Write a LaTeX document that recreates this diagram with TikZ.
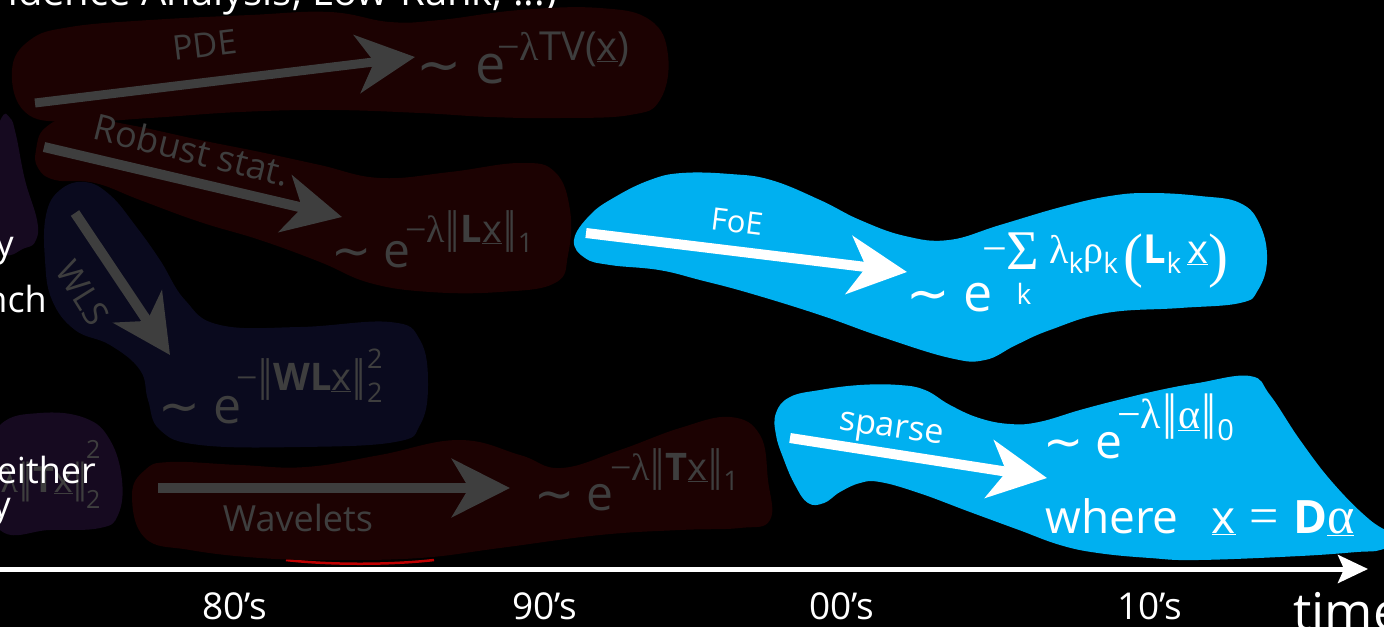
\documentclass[tikz,border=0pt]{standalone}
\usepackage{fontspec}
\setmainfont{Open Sans}
\newfontfamily\dvfont{DejaVu Sans}
\newfontfamily\gkfont{Liberation Serif}
\usetikzlibrary{arrows.meta}
\definecolor{blobred}{RGB}{28,2,2}
\definecolor{blobnavy}{RGB}{10,10,30}
\definecolor{blobpurple}{RGB}{22,10,32}
\definecolor{fade}{RGB}{62,62,62}
\definecolor{skyblue}{RGB}{0,176,240}
\definecolor{arcred}{RGB}{190,0,0}
\newcommand\myfs[1]{\fontsize{#1}{#1}\selectfont}
\newcommand\myTld{{\dvfont ∼}}
\newcommand\myMns{{\gkfont −}}
\newcommand\myNrm{{\gkfont\kern0.02em|\kern-0.1em|\kern0.02em}}
\newcommand\myLam{{\gkfont λ}}
\newcommand\myAlp{{\gkfont α}}
\newcommand\myRho{{\gkfont ρ}}
\newcommand\mySig{{\gkfont Σ}}
\begin{document}
\begin{tikzpicture}[x=1pt,y=-1pt,
  fatarrow/.style={line width=10pt,-{Stealth[length=58pt,width=58pt,inset=17pt]}},
  txt/.style={inner sep=0pt,anchor=base west},
  lbl/.style={inner sep=0pt,font=\myfs{34pt}},
  yr/.style={inner sep=0pt,text=white,font=\myfs{37pt}},
  side/.style={inner sep=0pt,anchor=base east,text=white,font=\myfs{36pt}}]
\useasboundingbox (0,0) rectangle (1384,627);
\clip (0,0) rectangle (1384,627);
\fill[black] (0,0) rectangle (1384,627);

% title (cut off)
\node[inner sep=0pt,anchor=base east,text=white,font=\myfs{40pt}] (title) at (557,5) {Independence Analysis, Low-Rank, ...)};

% ---------- dark blobs ----------
\fill[blobred] plot[smooth cycle,tension=0.7] coordinates {(12,70) (30,40) (70,27) (150,20) (250,15) (330,12) (390,22) (440,20) (520,10) (600,8) (650,20) (668,55) (660,100) (630,115) (560,118) (490,117) (420,113) (330,110) (240,112) (150,118) (70,122) (25,112)};
\fill[blobred] plot[smooth cycle,tension=0.7] coordinates {(36,150) (45,128) (75,117) (130,125) (200,140) (260,152) (320,165) (380,178) (450,172) (520,163) (555,172) (570,210) (568,255) (555,283) (500,292) (430,292) (370,283) (320,262) (260,240) (200,222) (140,200) (95,183) (55,180) (38,168)};
\fill[blobnavy] plot[smooth cycle,tension=0.7] coordinates {(46,215) (60,190) (85,182) (110,195) (135,225) (160,260) (185,300) (220,325) (300,327) (390,322) (420,340) (428,385) (420,425) (395,442) (300,447) (200,445) (160,430) (148,400) (140,370) (110,345) (75,330) (52,300) (45,260)};
\fill[blobpurple] plot[smooth cycle,tension=0.7] coordinates {(-20,185) (0,121) (10,118) (16,135) (25,180) (37,220) (36,240) (25,248) (0,250)};
\fill[blobpurple] plot[smooth cycle,tension=0.7] coordinates {(-20,470) (0,425) (40,413) (85,418) (110,440) (122,480) (118,515) (100,528) (50,530) (0,530)};
\draw[arcred,line width=2.5pt] (286,560) .. controls (330,565) and (390,565) .. (434,560);
\fill[blobred] plot[smooth cycle,tension=0.7] coordinates {(132,495) (145,470) (170,462) (240,465) (306,467) (380,455) (459,440) (520,455) (561,468) (620,450) (680,428) (730,417) (760,435) (768,480) (770,520) (740,528) (680,530) (600,535) (500,548) (420,558) (330,560) (260,558) (190,550) (145,538)};

% ---------- faded content ----------
\begin{scope}[fade]
\coordinate (pdeS) at (35,103); \coordinate (pdeT) at (415,57);
\draw[fatarrow,line width=9pt] (pdeS) -- (pdeT);
\node[lbl,rotate=7] (pdeL) at (205,45) {PDE};
\node[txt,font=\myfs{54pt}] (pdeE) at (416,83) {\myTld\ e};
\node[txt,font=\myfs{40pt}] (pdeX) at (497,60) {\myMns\myLam TV(\underline{x})};

\coordinate (robS) at (44,147); \coordinate (robT) at (342,217);
\draw[fatarrow] (robS) -- (robT);
\node[lbl,rotate=-14,font=\myfs{36pt}] (robL) at (192,150) {Robust stat.};
\node[txt,font=\myfs{48pt}] (robE) at (331,267) {\myTld\ e};
\node[txt,font=\myfs{38pt}] (robX) at (405,242) {\myMns\myLam{\myfs{46pt}\myNrm}\textbf{L}\underline{x}{\myfs{46pt}\myNrm}\raisebox{-10pt}{\myfs{27pt}1}};

\coordinate (wlsS) at (75,213); \coordinate (wlsT) at (170,355);
\draw[fatarrow] (wlsS) -- (wlsT);
\node[lbl,rotate=-58] (wlsL) at (83,293) {WLS};
\node[txt,font=\myfs{50pt}] (wlsE) at (158,423) {\myTld\ e};
\node[txt,font=\myfs{38pt}] (wlsX) at (236,390) {\myMns{\myfs{46pt}\myNrm}\textbf{WL}\underline{x}{\myfs{46pt}\myNrm}\rlap{\raisebox{22pt}{\myfs{27pt}2}}\raisebox{-12pt}{\myfs{27pt}2}};

\coordinate (wavS) at (158,488); \coordinate (wavT) at (510,488);
\draw[fatarrow] (wavS) -- (wavT);
\node[lbl,font=\myfs{36pt}] (wavL) at (298,518) {Wavelets};
\node[txt,font=\myfs{48pt}] (wavE) at (534,510) {\myTld\ e};
\node[txt,font=\myfs{38pt}] (wavX) at (610,480) {\myMns\myLam{\myfs{46pt}\myNrm}\textbf{T}\underline{x}{\myfs{46pt}\myNrm}\raisebox{-10pt}{\myfs{27pt}1}};

\node[inner sep=0pt,anchor=base east,font=\myfs{36pt}] (leftX) at (88,492) {\myLam{\myfs{44pt}\myNrm}\textbf{T}\underline{x}{\myfs{44pt}\myNrm}};
\node[inner sep=0pt,anchor=base west,font=\myfs{25pt}] (leftSup) at (86,458) {2};
\node[inner sep=0pt,anchor=base west,font=\myfs{25pt}] (leftSub) at (86,508) {2};
\end{scope}

% ---------- left white texts ----------
\node[side] (sideA) at (14,256) {y};
\node[side] (sideB) at (47,312) {nch};
\node[side] (sideC) at (96,483) {either};
\node[side] (sideD) at (11,517) {y};

% ---------- FoE ----------
\fill[skyblue] plot[smooth cycle,tension=0.7] coordinates {(574,240) (590,215) (615,197) (650,180) (682,173) (730,174) (771,180) (820,200) (860,220) (905,236) (949,240) (1000,225) (1061,207) (1110,196) (1150,193) (1200,196) (1240,203) (1260,225) (1267,260) (1258,290) (1240,303) (1180,308) (1106,313) (1050,330) (1016,345) (985,360) (950,358) (882,337) (820,315) (749,293) (700,280) (659,270) (610,265) (585,258)};
\begin{scope}[white]
\coordinate (foeS) at (586,233); \coordinate (foeT) at (907,272);
\draw[fatarrow] (foeS) -- (foeT);
\node[lbl,rotate=-7,font=\myfs{31pt}] (foeL) at (737,222) {FoE};
\node[txt,font=\myfs{52pt}] (foeE) at (906,311) {\myTld\ e};
\node[txt,font=\myfs{44pt}] (foeM) at (982,263) {\myMns};
\node[inner sep=0pt,font=\myfs{56pt}] (foeSig) at (1023,251) {\mySig};
\node[inner sep=0pt,font=\myfs{28pt}] (foeK) at (1024,294) {k};
\node[txt,font=\myfs{40pt}] (foeX) at (1049,263) {\myLam\raisebox{-10pt}{\myfs{28pt}k}\myRho\raisebox{-10pt}{\myfs{28pt}k}\hspace{6pt}\raisebox{-12pt}{\gkfont\myfs{60pt}(}\textbf{L}\raisebox{-10pt}{\myfs{28pt}k}\hspace{6pt}\underline{x}\raisebox{-12pt}{\gkfont\myfs{60pt})}};
\end{scope}

% ---------- sparse ----------
\fill[skyblue] plot[smooth cycle,tension=0.7] coordinates {(776,413) (790,397) (820,390) (860,385) (899,385) (925,390) (950,405) (979,418) (1010,424) (1039,422) (1080,410) (1118,400) (1160,390) (1198,383) (1250,376) (1270,395) (1300,440) (1333,483) (1370,520) (1400,540) (1380,550) (1357,552) (1300,556) (1198,560) (1150,558) (1098,553) (1060,545) (1019,530) (970,512) (919,493) (880,482) (860,483) (840,492) (824,503) (808,503) (795,485) (784,460) (776,435)};
\begin{scope}[white]
\coordinate (spaS) at (790,438); \coordinate (spaT) at (1047,478);
\draw[fatarrow] (spaS) -- (spaT);
\node[lbl,rotate=-8] (spaL) at (891,432) {sparse};
\node[txt,font=\myfs{48pt}] (spaE) at (1043,458) {\myTld\ e};
\node[txt,font=\myfs{42pt}] (spaX) at (1117,428) {\myMns\myLam{\myfs{50pt}\myNrm}\underline{\myAlp}{\myfs{50pt}\myNrm}\raisebox{-12pt}{\myfs{29pt}0}};
\node[txt,font=\myfs{46pt}] (where) at (1045,533) {where\hspace{33pt}\underline{x}\hspace{14pt}{\gkfont\myfs{52pt}=}\hspace{14pt}\textbf{D}{\myfs{52pt}\underline{\myAlp}}};
\end{scope}

% ---------- time axis ----------
\coordinate (axL) at (-5,569); \coordinate (axR) at (1368,569);
\draw[white,line width=5pt,-{Stealth[length=30pt,width=28pt,inset=6pt]}] (axL) -- (axR);
\node[yr] (y80) at (235,606) {80’s};
\node[yr] (y90) at (545,606) {90’s};
\node[yr] (y00) at (842,606) {00’s};
\node[yr] (y10) at (1150,606) {10’s};
\node[inner sep=0pt,anchor=base west,text=white,font=\myfs{52pt}] (time) at (1293,630) {time};
\end{tikzpicture}
\end{document}
